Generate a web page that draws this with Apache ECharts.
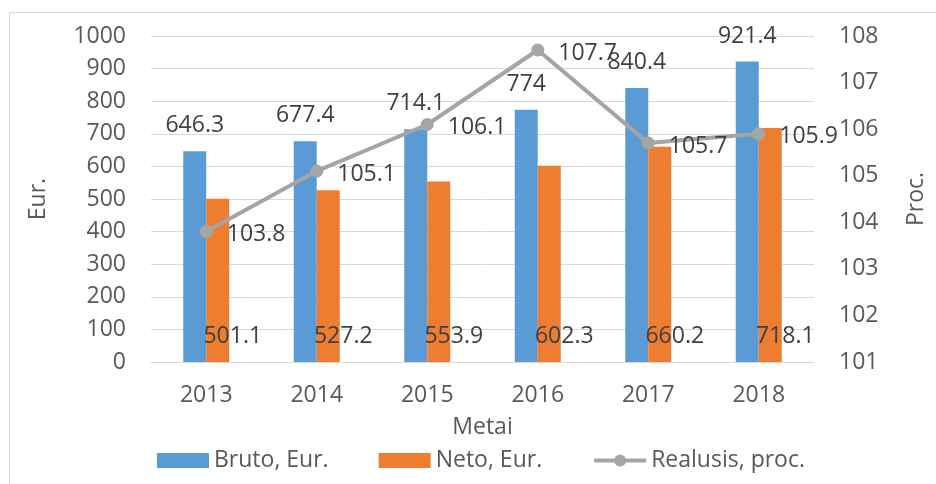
<!DOCTYPE html>
<html>
<head>
<meta charset="utf-8">
<script src="https://cdn.jsdelivr.net/npm/echarts@6/dist/echarts.min.js"></script>
<style>
  html, body { margin: 0; padding: 0; background: #fff; }
  #chart { width: 936px; height: 484px; }
</style>
</head>
<body>
<div id="chart"></div>
<script>
// 数据
const years = ['2013', '2014', '2015', '2016', '2017', '2018'];
const bruto = [646.3, 677.4, 714.1, 774, 840.4, 921.4];
const neto = [501.1, 527.2, 553.9, 602.3, 660.2, 718.1];
const realusis = [103.8, 105.1, 106.1, 107.7, 105.7, 105.9];

const FONT = 'Open Sans';
const TEXT = '#595959';
const FS = 23;

const chart = echarts.init(document.getElementById('chart'));

const option = {
    animation: false,
    textStyle: { fontFamily: FONT, color: TEXT },
    graphic: [{
        type: 'rect',
        shape: { x: 9.5, y: 12.5, width: 1000, height: 1000 },
        style: { fill: 'none', stroke: '#d9d9d9', lineWidth: 1 }
    }],
    grid: { left: 151, right: 101, top: 36, bottom: 122 },
    legend: {
        top: 444,
        left: 152,
        itemWidth: 52,
        itemHeight: 15,
        itemGap: 50,
        textStyle: { fontFamily: FONT, fontSize: FS, color: TEXT },
        data: [
            { name: 'Bruto, Eur.', icon: 'rect' },
            { name: 'Neto, Eur.', icon: 'rect' },
            { name: 'Realusis, proc.', lineStyle: { width: 4, color: '#A5A5A5' } }
        ]
    },
    xAxis: {
        type: 'category',
        data: years,
        name: 'Metai',
        nameLocation: 'middle',
        nameGap: 54,
        nameTextStyle: { fontSize: FS, color: TEXT },
        axisLine: { lineStyle: { color: '#d9d9d9', width: 1 } },
        axisTick: { show: false },
        axisLabel: { fontSize: FS, color: TEXT, margin: 22 }
    },
    yAxis: [{
        type: 'value',
        min: 0,
        max: 1000,
        interval: 100,
        name: 'Eur.',
        nameLocation: 'middle',
        nameGap: 101,
        nameTextStyle: { fontSize: FS, color: TEXT },
        axisLabel: { fontSize: FS, color: TEXT, margin: 25, formatter: v => String(v) },
        splitLine: { lineStyle: { color: '#d9d9d9', width: 1 } }
    }, {
        type: 'value',
        min: 101,
        max: 108,
        interval: 1,
        name: 'Proc.',
        nameLocation: 'middle',
        nameGap: 91,
        nameTextStyle: { fontSize: FS, color: TEXT },
        axisLabel: { fontSize: FS, color: TEXT, margin: 25 },
        splitLine: { show: false }
    }],
    series: [{
        name: 'Bruto, Eur.',
        type: 'bar',
        data: bruto,
        barWidth: 23,
        barGap: '0%',
        itemStyle: { color: '#5B9BD5' },
        label: {
            show: true,
            position: 'top',
            distance: 14,
            fontSize: FS,
            color: '#404040'
        }
    }, {
        name: 'Neto, Eur.',
        type: 'bar',
        data: neto,
        barWidth: 23,
        barGap: '0%',
        itemStyle: { color: '#ED7D31' },
        label: {
            show: true,
            position: 'insideBottom',
            distance: 14,
            offset: [15, 0],
            fontSize: FS,
            color: '#404040'
        }
    }, {
        name: 'Realusis, proc.',
        type: 'line',
        yAxisIndex: 1,
        data: realusis,
        symbol: 'circle',
        symbolSize: 13,
        itemStyle: { color: '#A5A5A5' },
        lineStyle: { color: '#A5A5A5', width: 4 },
        label: {
            show: true,
            position: 'right',
            distance: 14,
            offset: [0, 3],
            fontSize: FS,
            color: '#404040'
        }
    }]
};

chart.setOption(option);
</script>
</body>
</html>
